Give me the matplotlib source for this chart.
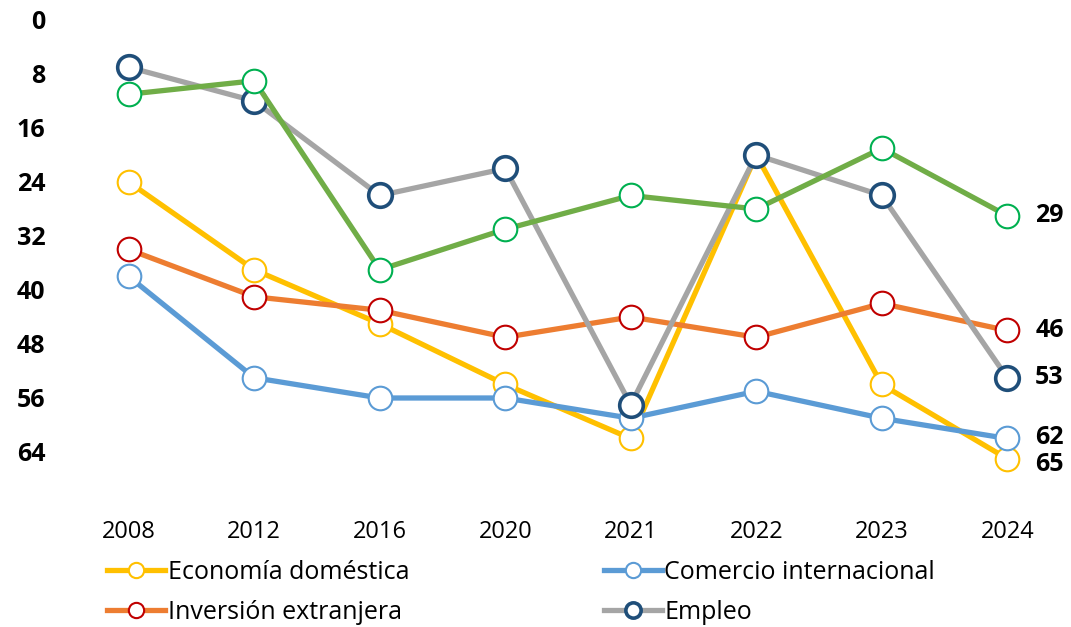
import matplotlib.pyplot as plt
from matplotlib.lines import Line2D

plt.rcParams['font.family'] = ['Open Sans', 'DejaVu Sans']

years = ['2008', '2012', '2016', '2020', '2021', '2022', '2023', '2024']
economia = [24, 37, 45, 54, 62, 20, 54, 65]
comercio = [38, 53, 56, 56, 59, 55, 59, 62]
inversion = [34, 41, 43, 47, 44, 47, 42, 46]
empleo = [7, 12, 26, 22, 57, 20, 26, 53]
gobierno = [11, 9, 37, 31, 26, 28, 19, 29]  # green series, not in legend

y_ticks = [0, 8, 16, 24, 32, 40, 48, 56, 64]

# name, values, line colour, marker edge, marker edge width
series = [
    ('Economía doméstica', economia, '#FFC000', '#FFC000', 1.5),
    ('Comercio internacional', comercio, '#5B9BD5', '#5B9BD5', 1.5),
    ('Inversión extranjera', inversion, '#ED7D31', '#C00000', 1.5),
    ('Empleo', empleo, '#A5A5A5', '#1F4E79', 2.6),
    ('_verde', gobierno, '#70AD47', '#00B050', 1.5),
]

fig = plt.figure(figsize=(10.71, 6.27), dpi=100)
ax = fig.add_axes([66 / 1071, 1 - 506 / 627, 1004 / 1071, 486 / 627])

x = list(range(len(years)))
for i, (name, vals, col, edge, ew) in enumerate(series):
    ax.plot(x, vals, color=col, lw=3.8, marker='o', ms=17,
            mfc='white', mec=edge, mew=ew, zorder=2 + i, clip_on=False)

# end labels (62 and 65 pushed apart a bit, as in the original)
label_off = {'Economía doméstica': 0.9, 'Comercio internacional': -0.2}
for name, vals, col, edge, ew in series:
    ax.annotate(str(vals[-1]), (x[-1], vals[-1] + label_off.get(name, 0)),
                xytext=(28, 0), textcoords='offset pixels',
                ha='left', va='center', fontsize=18, fontweight='bold')

ax.set_xlim(-0.5, 7.5)
ax.set_ylim(72, 0)
ax.set_yticks(y_ticks)
ax.set_yticklabels([str(t) for t in y_ticks], fontsize=18, fontweight='bold')
ax.set_xticks(x)
ax.set_xticklabels(years, fontsize=17)
ax.tick_params(axis='both', length=0)
ax.tick_params(axis='y', pad=15)
ax.tick_params(axis='x', pad=10)
for s in ax.spines.values():
    s.set_visible(False)

handles = []
labels = []
for k in [0, 2, 1, 3]:
    name, vals, col, edge, ew = series[k]
    handles.append(Line2D([], [], color=col, lw=3.8, marker='o', ms=11,
                          mfc='white', mec=edge, mew=ew))
    labels.append(name)

fig.legend(handles, labels, loc='upper left', bbox_to_anchor=(107 / 1071, 1 - 560 / 627),
           ncol=2, frameon=False, fontsize=18, handlelength=2.3, handletextpad=0.12,
           columnspacing=7.8, labelspacing=0.6, borderaxespad=0, borderpad=0)

fig.savefig('out.png', dpi=100)
